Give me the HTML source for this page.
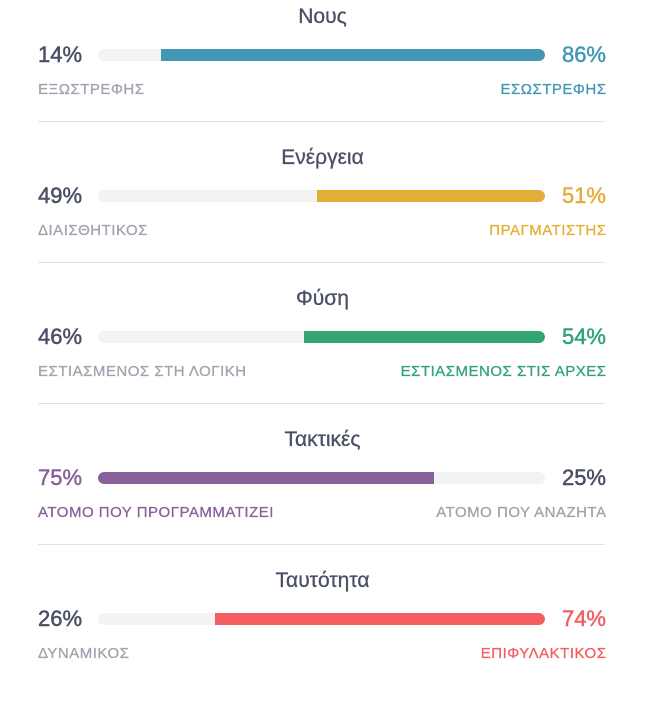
<!DOCTYPE html><html><head><style>
body{margin:0;width:645px;height:696px;background:#fff;font-family:"Liberation Sans",sans-serif;color:#4a4f63;position:relative;overflow:hidden}
.s{position:absolute;left:0;width:645px;height:141px}
.t{position:absolute;left:0;width:645px;text-align:center;top:5px;font-size:21px;line-height:24px;-webkit-text-stroke:0.3px #4a4f63}
.p{position:absolute;top:43px;font-size:22px;line-height:24px;-webkit-text-stroke:0.5px currentColor}
.pl{left:38px}.pr{right:39px}
.bar{position:absolute;left:98px;width:447px;top:49px;height:12px;background:#f3f3f3;border-radius:6px;overflow:hidden}
.f{position:absolute;top:0;height:12px}
.l{position:absolute;top:81px;font-size:15px;line-height:18px;color:#a0a3ae;letter-spacing:0.5px;-webkit-text-stroke:0.3px currentColor}
.ll{left:38px}.lr{right:39px;margin-right:-0.5px}
.d{position:absolute;top:121px;left:38px;width:567px;height:1px;background:#e2e2e2}
</style></head><body>
<div class="s" style="top:0">
<div class="t">Νους</div>
<div class="p pl">14%</div><div class="bar"><div class="f" style="left:63px;right:0;background:#4298b4;border-radius:0 6px 6px 0"></div></div><div class="p pr" style="color:#4298b4">86%</div>
<div class="l ll">ΕΞΩΣΤΡΕΦΗΣ</div><div class="l lr" style="color:#4298b4">ΕΣΩΣΤΡΕΦΗΣ</div><div class="d"></div></div>
<div class="s" style="top:141px">
<div class="t">Ενέργεια</div>
<div class="p pl">49%</div><div class="bar"><div class="f" style="left:219px;right:0;background:#e4ae3a;border-radius:0 6px 6px 0"></div></div><div class="p pr" style="color:#e4ae3a">51%</div>
<div class="l ll">ΔΙΑΙΣΘΗΤΙΚΟΣ</div><div class="l lr" style="color:#e4ae3a">ΠΡΑΓΜΑΤΙΣΤΗΣ</div><div class="d"></div></div>
<div class="s" style="top:282px">
<div class="t">Φύση</div>
<div class="p pl">46%</div><div class="bar"><div class="f" style="left:206px;right:0;background:#33a474;border-radius:0 6px 6px 0"></div></div><div class="p pr" style="color:#33a474">54%</div>
<div class="l ll">ΕΣΤΙΑΣΜΕΝΟΣ ΣΤΗ ΛΟΓΙΚΗ</div><div class="l lr" style="color:#33a474">ΕΣΤΙΑΣΜΕΝΟΣ ΣΤΙΣ ΑΡΧΕΣ</div><div class="d"></div></div>
<div class="s" style="top:423px">
<div class="t">Τακτικές</div>
<div class="p pl" style="color:#88619a">75%</div><div class="bar"><div class="f" style="left:0;width:336px;background:#88619a;border-radius:6px 0 0 6px"></div></div><div class="p pr">25%</div>
<div class="l ll" style="color:#88619a">ΑΤΟΜΟ ΠΟΥ ΠΡΟΓΡΑΜΜΑΤΙΖΕΙ</div><div class="l lr">ΑΤΟΜΟ ΠΟΥ ΑΝΑΖΗΤΑ</div><div class="d"></div></div>
<div class="s" style="top:564px">
<div class="t">Ταυτότητα</div>
<div class="p pl">26%</div><div class="bar"><div class="f" style="left:117px;right:0;background:#f25e62;border-radius:0 6px 6px 0"></div></div><div class="p pr" style="color:#f25e62">74%</div>
<div class="l ll">ΔΥΝΑΜΙΚΟΣ</div><div class="l lr" style="color:#f25e62">ΕΠΙΦΥΛΑΚΤΙΚΟΣ</div></div>
</body></html>
